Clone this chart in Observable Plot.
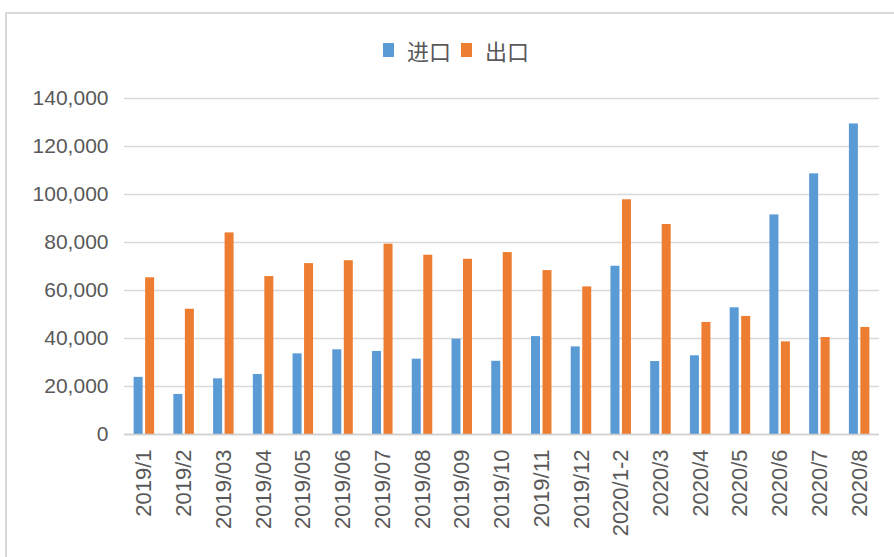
<!DOCTYPE html>
<html>
<head>
<meta charset="utf-8">
<script src="https://cdn.jsdelivr.net/npm/d3@7"></script>
<script src="https://cdn.jsdelivr.net/npm/@observablehq/plot@0.6"></script>
<style>
  body { margin: 0; background: #fff; width: 894px; height: 557px; overflow: hidden; position: relative; }
  #frame { position: absolute; left: 5px; top: 12px; width: 900px; height: 560px; border: 2px solid #d9d9d9; box-sizing: border-box; }
  #legend { position: absolute; top: 38px; left: 18px; width: 876px; display: flex; justify-content: center; align-items: center;
            font-family: "Noto Sans CJK SC", sans-serif; font-size: 22px; color: #595959; line-height: 24px; }
  #legend .sw { display: inline-block; width: 11px; height: 14px; margin-right: 13px; }
  #legend .item { display: flex; align-items: center; margin: 0 5px; }
  #chart { position: absolute; left: 0; top: 80px; }
</style>
</head>
<body>
<div id="frame"></div>
<div id="legend"></div>
<div id="chart"></div>
<script>
const categories = ["2019/1","2019/2","2019/03","2019/04","2019/05","2019/06","2019/07","2019/08","2019/09","2019/10","2019/11","2019/12","2020/1-2","2020/3","2020/4","2020/5","2020/6","2020/7","2020/8"];
const imports = [23800,16700,23200,25000,33600,35300,34600,31400,39700,30500,40800,36500,70100,30400,32800,52800,91500,108600,129400];
const exportsV = [65300,52200,84000,65800,71200,72400,79300,74700,73000,75800,68300,61500,97800,87500,46700,49200,38600,40400,44600];
const seriesNames = ["进口","出口"];
const seriesColors = ["#5b9bd5","#ed7d31"];
const yTicks = [0,20000,40000,60000,80000,100000,120000,140000];

const data = categories.map((c, i) => ({cat: c, imp: imports[i], exp: exportsV[i]}));

// legend
const legend = document.getElementById("legend");
seriesNames.forEach((n, i) => {
  const it = document.createElement("span");
  it.className = "item";
  const sw = document.createElement("span");
  sw.className = "sw";
  sw.style.background = seriesColors[i];
  it.appendChild(sw);
  it.appendChild(document.createTextNode(n));
  legend.appendChild(it);
});

const W = 894, ML = 124, MR = 15;
const bw = (W - ML - MR) / categories.length;
const barW = 9, gap = 1.25;

const chart = Plot.plot({
  width: W,
  height: 477,
  marginLeft: ML,
  marginRight: MR,
  marginTop: 18,
  marginBottom: 123,
  style: {fontFamily: "Liberation Sans, Arial, sans-serif", color: "#595959", background: "transparent"},
  x: {domain: categories, padding: 0, round: false},
  y: {domain: [0, 140000]},
  marks: [
    Plot.gridY(yTicks, {stroke: "#d9d9d9", strokeOpacity: 1, strokeWidth: 1.5}),
    Plot.axisY(yTicks, {tickSize: 0, tickPadding: 16, tickFormat: d3.format(","), label: null, fontSize: 21, fill: "#595959"}),
    Plot.axisX({tickSize: 0, tickPadding: 15, tickRotate: -90, label: null, fontSize: 22, fill: "#595959"}),
    Plot.barY(data, {x: "cat", y: "imp", fill: seriesColors[0], insetLeft: bw / 2 - gap - barW, insetRight: bw / 2 + gap}),
    Plot.barY(data, {x: "cat", y: "exp", fill: seriesColors[1], insetLeft: bw / 2 + gap, insetRight: bw / 2 - gap - barW}),
    Plot.ruleY([0], {stroke: "#d0d0d0", strokeWidth: 1.5})
  ]
});
document.getElementById("chart").appendChild(chart);
</script>
</body>
</html>
